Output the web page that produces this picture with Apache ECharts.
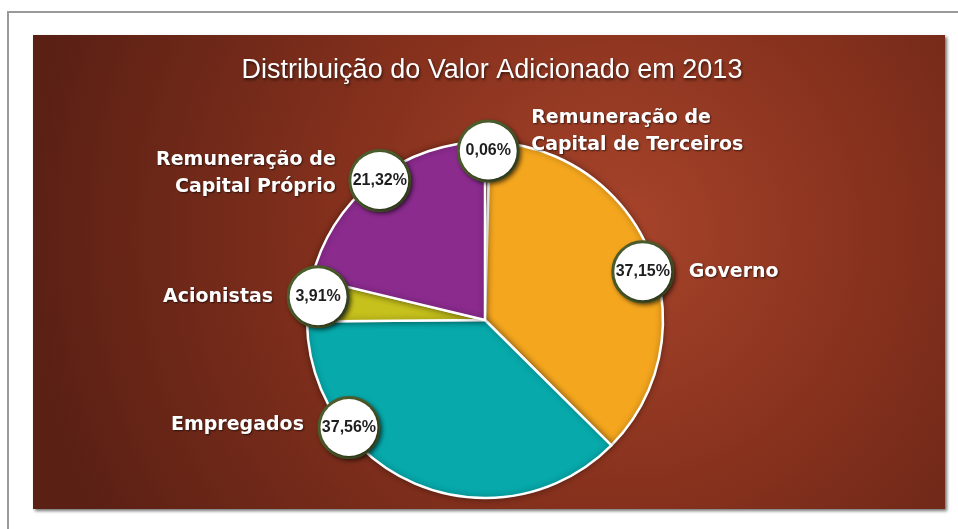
<!DOCTYPE html>
<html>
<head>
<meta charset="utf-8">
<title>Distribuição do Valor Adicionado em 2013</title>
<script src="https://cdn.jsdelivr.net/npm/echarts@6/dist/echarts.min.js"></script>
<style>
  html, body { margin: 0; padding: 0; background: #fff; }
  #main { width: 958px; height: 529px; }
</style>
</head>
<body>
<div id="main"></div>
<script>
// dados
const categorias = ['Remuneração de Capital de Terceiros', 'Governo', 'Empregados', 'Acionistas', 'Remuneração de Capital Próprio']
const rotulos = ['Remuneração de\nCapital de Terceiros', 'Governo', 'Empregados', 'Acionistas', 'Remuneração de\nCapital Próprio']
const valores = [0.06, 37.15, 37.56, 3.91, 21.32]
const cores = ['#7a2b1a', '#f4a61e', '#07a9ab', '#c6c11c', '#8b2b8e']

// ajuste dos selos em relação ao ângulo médio da fatia
const selo = [[1, 1], [0, 15], [-72, -50], [2, -4], [0, -6]]
// posição do nome em relação ao selo: dx, dy, alinhamento
const nome = [[43, -19, 'left'], [46, 0, 'left'], [-45, -2, 'right'], [-45, 0, 'right'], [-44, -7, 'right']]

const pct = v => v.toFixed(2).replace('.', ',') + '%'

const centro = [485, 320]

const myChart = echarts.init(document.getElementById('main'))

const dados = categorias.map((c, i) => ({ name: c, value: valores[i] }))

const option = {
  animation: false,
  title: {
    text: 'Distribuição do Valor Adicionado em 2013',
    left: 487,
    top: 52,
    textAlign: 'center',
    textStyle: {
      color: '#fff',
      fontSize: 27,
      fontWeight: 'normal',
      fontFamily: 'Liberation Sans',
      textShadowColor: 'rgba(0,0,0,0.6)',
      textShadowBlur: 3,
      textShadowOffsetX: 1,
      textShadowOffsetY: 2
    }
  },
  // moldura e fundo
  graphic: [
    {
      type: 'rect',
      z: -10,
      shape: { x: 8, y: 12, width: 1000, height: 600 },
      style: { fill: 'none', stroke: '#9a9a9a', lineWidth: 2 }
    },
    {
      type: 'rect',
      z: -9,
      shape: { x: 33, y: 35, width: 912, height: 474 },
      style: {
        fill: new echarts.graphic.RadialGradient(0.64, 0.42, 1.25, [
          { offset: 0, color: '#a8442b' },
          { offset: 0.45, color: '#86311d' },
          { offset: 1, color: '#5a2014' }
        ]),
        shadowColor: 'rgba(0,0,0,0.55)',
        shadowBlur: 3,
        shadowOffsetX: 2,
        shadowOffsetY: 2
      }
    }
  ],
  series: [
    {
      type: 'pie',
      center: centro,
      radius: [0, 178],
      minAngle: 1.5,
      silent: true,
      label: { show: false },
      labelLine: { show: false },
      itemStyle: {
        borderColor: '#fff',
        borderWidth: 2.5,
        shadowColor: 'rgba(0,0,0,0.35)',
        shadowBlur: 6
      },
      data: dados.map((d, i) => ({ ...d, itemStyle: { color: cores[i] } })),
      z: 2
    },
    // selos com percentual
    {
      type: 'pie',
      center: centro,
      radius: [150, 184],
      minAngle: 1.5,
      silent: true,
      itemStyle: { color: 'rgba(0,0,0,0)', borderWidth: 0 },
      labelLine: { show: false },
      label: {
        show: true,
        position: 'inside',
        overflow: 'none',
        formatter: p => '{b|' + pct(p.value) + '}',
        rich: {
          b: {
            width: 57,
            height: 57,
            lineHeight: 57,
            align: 'center',
            borderRadius: 32,
            backgroundColor: '#fff',
            borderColor: '#4d5d2c',
            borderWidth: 3,
            color: '#1e1e1e',
            fontSize: 16,
            fontWeight: 'bold',
            fontFamily: 'Liberation Sans',
            shadowColor: 'rgba(0,0,0,0.5)',
            shadowBlur: 4,
            shadowOffsetX: 2,
            shadowOffsetY: 2
          }
        }
      },
      labelLayout: p => ({ dx: selo[p.dataIndex][0], dy: selo[p.dataIndex][1] }),
      data: dados,
      z: 5
    },
    // nomes das categorias
    {
      type: 'pie',
      center: centro,
      radius: [150, 184],
      minAngle: 1.5,
      silent: true,
      itemStyle: { color: 'rgba(0,0,0,0)', borderWidth: 0 },
      labelLine: { show: false },
      label: {
        show: true,
        position: 'inside',
        overflow: 'none',
        formatter: p => rotulos[p.dataIndex],
        color: '#fff',
        fontSize: 19,
        fontWeight: 'bold',
        fontFamily: 'DejaVu Sans',
        lineHeight: 27,
        textShadowColor: 'rgba(0,0,0,0.6)',
        textShadowBlur: 2,
        textShadowOffsetX: 1,
        textShadowOffsetY: 1
      },
      labelLayout: p => ({
        dx: selo[p.dataIndex][0] + nome[p.dataIndex][0],
        dy: selo[p.dataIndex][1] + nome[p.dataIndex][1],
        align: nome[p.dataIndex][2]
      }),
      data: dados,
      z: 5
    }
  ]
}

myChart.setOption(option)
</script>
</body>
</html>
